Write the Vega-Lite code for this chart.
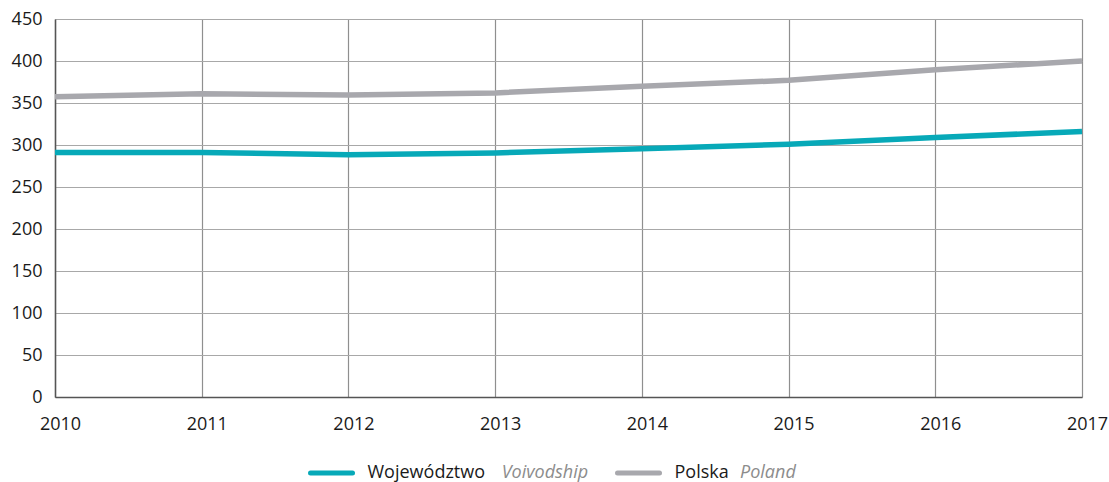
{
  "$schema": "https://vega.github.io/schema/vega-lite/v6.json",
  "autosize": {"type": "pad"},
  "padding": {"left": 11, "top": 10, "right": 4, "bottom": 0},
  "background": "white",
  "datasets": {
    "main": [
      {"year": 2010, "series": "Województwo", "value": 291},
      {"year": 2011, "series": "Województwo", "value": 291},
      {"year": 2012, "series": "Województwo", "value": 288.5},
      {"year": 2013, "series": "Województwo", "value": 290.5},
      {"year": 2014, "series": "Województwo", "value": 295.5},
      {"year": 2015, "series": "Województwo", "value": 301},
      {"year": 2016, "series": "Województwo", "value": 309},
      {"year": 2017, "series": "Województwo", "value": 316},
      {"year": 2010, "series": "Polska", "value": 357.5},
      {"year": 2011, "series": "Polska", "value": 361},
      {"year": 2012, "series": "Polska", "value": 359.5},
      {"year": 2013, "series": "Polska", "value": 362},
      {"year": 2014, "series": "Polska", "value": 370},
      {"year": 2015, "series": "Polska", "value": 377},
      {"year": 2016, "series": "Polska", "value": 389.5},
      {"year": 2017, "series": "Polska", "value": 400}
    ],
    "legend": [
      {"series": "Województwo", "english": "Voivodship"},
      {"series": "Polska", "english": "Poland"}
    ]
  },
  "config": {
    "view": {"stroke": null},
    "font": "Open Sans"
  },
  "vconcat": [
    {
      "width": 1027,
      "height": 378,
      "data": {"name": "main"},
      "mark": {"type": "line", "strokeWidth": 5.5, "strokeCap": "butt", "strokeJoin": "round"},
      "encoding": {
        "x": {
          "field": "year",
          "type": "quantitative",
          "scale": {"domain": [2010, 2017], "nice": false, "zero": false},
          "axis": {
            "title": null,
            "values": [2010, 2011, 2012, 2013, 2014, 2015, 2016, 2017],
            "format": "d",
            "grid": true,
            "gridColor": "#8f8f8f",
            "gridWidth": 1.2,
            "ticks": false,
            "domain": true,
            "domainColor": "#555555",
            "domainWidth": 1.5,
            "labelFontSize": 18,
            "labelColor": "#1a1a1a",
            "labelPadding": 18,
            "labelOffset": 5,
            "labelFlush": false
          }
        },
        "y": {
          "field": "value",
          "type": "quantitative",
          "scale": {"domain": [0, 450], "nice": false},
          "axis": {
            "title": null,
            "values": [0, 50, 100, 150, 200, 250, 300, 350, 400, 450],
            "grid": true,
            "gridColor": "#a8a8a8",
            "gridWidth": 1.2,
            "ticks": false,
            "domain": true,
            "domainColor": "#555555",
            "domainWidth": 1.5,
            "labelFontSize": 18,
            "labelColor": "#1a1a1a",
            "labelPadding": 13
          }
        },
        "color": {
          "field": "series",
          "type": "nominal",
          "scale": {"domain": ["Województwo", "Polska"], "range": ["#07a9b8", "#a8a8ad"]},
          "legend": null
        }
      }
    },
    {
      "width": 1027,
      "height": 20,
      "data": {"name": "legend"},
      "layer": [
        {
          "mark": {"type": "point", "shape": "stroke", "filled": false, "strokeWidth": 5, "strokeCap": "round", "size": 1764, "opacity": 1},
          "encoding": {
            "x": {"field": "series", "type": "nominal", "scale": {"domain": ["Województwo", "Polska"], "range": [276.5, 583.5], "padding": 0}, "axis": null},
            "color": {"field": "series", "type": "nominal", "scale": {"domain": ["Województwo", "Polska"], "range": ["#07a9b8", "#a8a8ad"]}, "legend": null}
          }
        },
        {
          "mark": {"type": "text", "align": "left", "baseline": "middle", "dx": 36, "fontSize": 18, "color": "#1a1a1a"},
          "encoding": {
            "x": {"field": "series", "type": "nominal", "scale": {"domain": ["Województwo", "Polska"], "range": [276.5, 583.5], "padding": 0}, "axis": null},
            "text": {"field": "series"}
          }
        },
        {
          "mark": {"type": "text", "align": "left", "baseline": "middle", "fontSize": 18, "fontStyle": "italic", "color": "#8c8c8c"},
          "encoding": {
            "x": {"field": "english", "type": "nominal", "scale": {"domain": ["Voivodship", "Poland"], "range": [446.7, 685], "padding": 0}, "axis": null},
            "text": {"field": "english"}
          }
        }
      ],
      "resolve": {"scale": {"x": "independent"}}
    }
  ],
  "spacing": 66,
  "bounds": "flush"
}
